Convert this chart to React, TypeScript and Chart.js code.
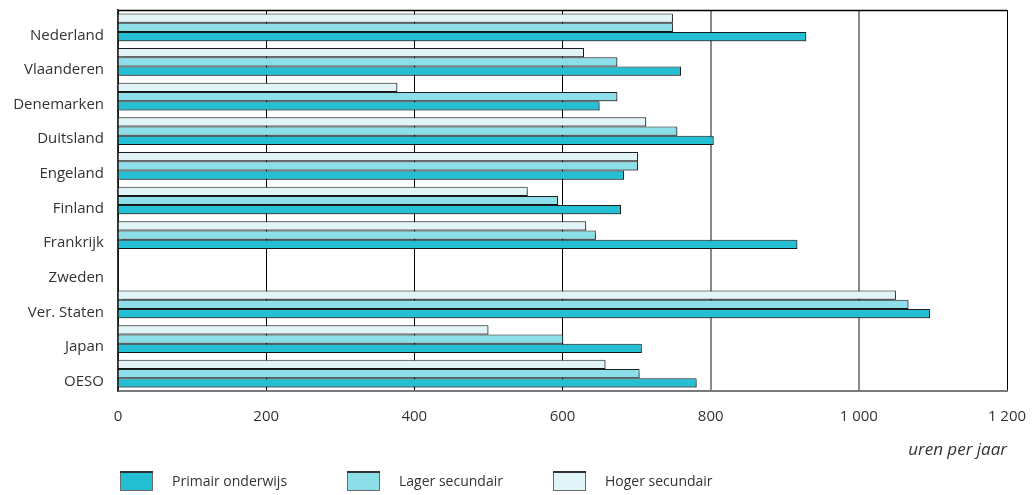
import React, { useEffect, useRef } from "react";
import { Chart, registerables } from "chart.js";

Chart.register(...registerables);

const categories = [
  "Nederland",
  "Vlaanderen",
  "Denemarken",
  "Duitsland",
  "Engeland",
  "Finland",
  "Frankrijk",
  "Zweden",
  "Ver. Staten",
  "Japan",
  "OESO",
];

const primairOnderwijs = [929, 760, 650, 804, 683, 679, 917, null, 1096, 707, 781];
const lagerSecundair = [749, 674, 674, 755, 702, 594, 645, null, 1067, 601, 704];
const hogerSecundair = [749, 629, 377, 713, 702, 553, 632, null, 1050, 500, 658];

const xTickValues = [0, 200, 400, 600, 800, 1000, 1200];
const xTickLabels = ["0", "200", "400", "600", "800", "1 000", "1 200"];
const axisTitle = "uren per jaar";

const seriesNames = ["Primair onderwijs", "Lager secundair", "Hoger secundair"];
const seriesColors = ["#25BFD4", "#8CDFE9", "#E1F5F8"];

const FONT = "'Open Sans', 'DejaVu Sans', sans-serif";
const TEXT_COLOR = "#333333";

// legend column offsets relative to chart area left edge (layout only)
const legendColumns = [2, 229, 435];

const frameAndShadowPlugin = {
  id: "frameAndShadow",
  beforeDatasetsDraw(chart: any) {
    const { ctx, chartArea } = chart;
    ctx.save();
    ctx.strokeStyle = "#000";
    ctx.lineWidth = 1.5;
    ctx.beginPath();
    ctx.moveTo(chartArea.left, chartArea.top + 0.5);
    ctx.lineTo(chartArea.right, chartArea.top + 0.5);
    ctx.stroke();
    ctx.restore();
    ctx.save();
    ctx.shadowColor = "rgba(0,0,0,0.35)";
    ctx.shadowOffsetX = 1;
    ctx.shadowOffsetY = 1;
    ctx.shadowBlur = 1;
  },
  afterDatasetsDraw(chart: any) {
    chart.ctx.restore();
  },
};

const legendPlugin = {
  id: "customLegend",
  afterDraw(chart: any) {
    const { ctx, chartArea } = chart;
    const boxW = 33;
    const boxH = 20;
    const boxTop = chart.height - 24;
    ctx.save();
    ctx.font = `14px ${FONT}`;
    ctx.textBaseline = "middle";
    ctx.textAlign = "left";
    seriesNames.forEach((name, i) => {
      const x = chartArea.left + legendColumns[i];
      ctx.fillStyle = seriesColors[i];
      ctx.fillRect(x, boxTop, boxW, boxH);
      ctx.strokeStyle = "#6b6b6b";
      ctx.lineWidth = 1;
      ctx.strokeRect(x + 0.5, boxTop + 0.5, boxW - 1, boxH - 1);
      ctx.strokeStyle = "#333";
      ctx.lineWidth = 2;
      ctx.beginPath();
      ctx.moveTo(x, boxTop + 1);
      ctx.lineTo(x + boxW, boxTop + 1);
      ctx.stroke();
      ctx.fillStyle = TEXT_COLOR;
      ctx.fillText(name, x + boxW + 19, boxTop + boxH / 2 + 1);
    });
    ctx.restore();
  },
};

export default function App() {
  const canvasRef = useRef<HTMLCanvasElement | null>(null);

  useEffect(() => {
    document.body.style.margin = "0";
    const canvas = canvasRef.current;
    if (!canvas) return;

    const seriesData = [primairOnderwijs, lagerSecundair, hogerSecundair];
    // Draw order top-to-bottom within a category: Hoger, Lager, Primair
    const datasets = [2, 1, 0].map((i) => ({
      label: seriesNames[i],
      data: seriesData[i],
      backgroundColor: seriesColors[i],
      borderColor: "#1e1e1e",
      borderWidth: 1,
      barPercentage: 1,
      categoryPercentage: 0.8,
    }));

    const chart = new Chart(canvas, {
      type: "bar",
      data: { labels: categories, datasets },
      options: {
        indexAxis: "y",
        animation: false,
        responsive: false,
        layout: { padding: { top: 10, right: 29, left: 0, bottom: 0 } },
        plugins: {
          legend: { display: false },
          tooltip: { enabled: false },
        },
        scales: {
          x: {
            type: "linear",
            min: 0,
            max: 1200,
            afterBuildTicks(scale: any) {
              scale.ticks = xTickValues.map((v) => ({ value: v }));
            },
            afterFit(scale: any) {
              scale.height = 104;
              scale.paddingLeft = 0;
              scale.paddingRight = 0;
            },
            ticks: {
              padding: 17,
              color: TEXT_COLOR,
              font: { family: FONT, size: 15 },
              callback: (value: any) => {
                const idx = xTickValues.indexOf(Number(value));
                return idx >= 0 ? xTickLabels[idx] : "";
              },
              maxRotation: 0,
            },
            grid: {
              drawTicks: false,
              color: (ctx: any) => {
                const v = ctx.tick ? ctx.tick.value : 0;
                return v === 800 || v === 1000 ? "#8a8a8a" : "#000";
              },
              lineWidth: (ctx: any) => {
                const v = ctx.tick ? ctx.tick.value : 0;
                return v === 800 || v === 1000 ? 2 : 1;
              },
            },
            border: { display: true, color: "#7a7a7a", width: 2 },
            title: {
              display: true,
              text: axisTitle,
              align: "end",
              color: TEXT_COLOR,
              font: { family: FONT, size: 17, style: "italic" },
              padding: { top: 0, bottom: 35 },
            },
          },
          y: {
            afterFit(scale: any) {
              scale.width = 118;
              scale.paddingTop = 0;
              scale.paddingBottom = 0;
            },
            ticks: {
              padding: 14,
              labelOffset: 8,
              color: TEXT_COLOR,
              font: { family: FONT, size: 15 },
            },
            grid: { display: false, drawTicks: false },
            border: { display: true, color: "#333", width: 1.5 },
          },
        },
      },
      plugins: [frameAndShadowPlugin, legendPlugin],
    });

    return () => chart.destroy();
  }, []);

  return (
    <div style={{ position: "fixed", left: 0, top: 0, width: 1036, height: 495, background: "#fff" }}>
      <canvas ref={canvasRef} width={1036} height={495} style={{ display: "block" }} />
    </div>
  );
}
